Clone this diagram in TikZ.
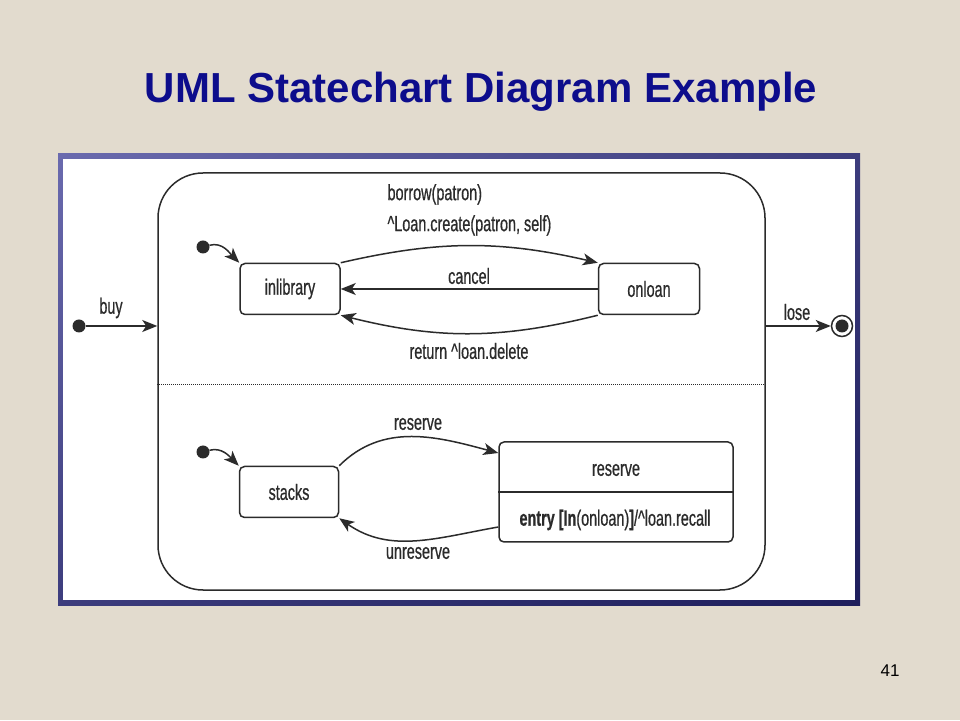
\documentclass[tikz,border=0pt]{standalone}
\usepackage{fontspec}
\setmainfont{Liberation Sans}
\newfontfamily\statefont[FakeStretch=0.655, FakeBold=0.6]{Liberation Sans}
\usepackage{xcolor}
\usepackage{tikz}
\usetikzlibrary{arrows.meta,shadings}
\definecolor{slidebg}{HTML}{E2DBCE}
\definecolor{titleblue}{HTML}{0D0D8C}
\definecolor{inkgray}{HTML}{2B2B2B}
\definecolor{frametop}{HTML}{6A6AAE}
\definecolor{framebot}{HTML}{1E1E5C}

\begin{document}
\begin{tikzpicture}[x=1pt, y=1pt,
  every node/.style={font=\statefont\fontsize{22}{31}\selectfont, text=inkgray},
  state/.style={draw=inkgray, line width=1.5pt, rounded corners=5pt, inner sep=0pt},
  pseudo/.style={circle, fill=inkgray, minimum size=13pt, inner sep=0pt},
  final/.style={circle, draw=inkgray, line width=1.5pt, minimum size=21pt, inner sep=0pt,
    path picture={\fill[inkgray] (path picture bounding box.center) circle (6.5pt);}},
  trans/.style={draw=inkgray, line width=1.5pt, -{Stealth[length=15pt, width=12pt, inset=4pt]}}]
\useasboundingbox[fill=slidebg] (0,0) rectangle (960,720);
\node[font=\bfseries\fontsize{42}{50}\selectfont, text=titleblue, anchor=base] (title) at (481,617) {UML Statechart Diagram Example};
\shade[upper left=frametop, upper right=framebot!60!frametop, lower left=framebot!60!frametop, lower right=framebot] (58,115) rectangle (860,566);
\fill[white] (63,120) rectangle (855,561);
\node[state, rounded corners=45pt, minimum width=607pt, minimum height=417pt] (book) at (461.5,338.5) {};
\draw[draw=inkgray, line width=1pt, dash pattern=on 1pt off 1pt] ([yshift=-3.5pt]book.west) -- ([yshift=-3.5pt]book.east);
\node[state, minimum width=100pt, minimum height=51pt] (inlibrary) at (290,431) {inlibrary};
\node[state, minimum width=101pt, minimum height=51pt] (onloan) at (649,431) {onloan};
\node[state, minimum width=99pt, minimum height=51pt] (stacks) at (289,228) {stacks};
\node[state, minimum width=234pt, minimum height=100pt] (reserve) at (616,228) {};
\draw[draw=inkgray, line width=1.5pt] (reserve.west) -- (reserve.east);
\node (reservename) at (616,250) {reserve};
\node (reserveentry) at (615,200) {\bfseries entry [In\mdseries(onloan)\bfseries]\mdseries/\textasciicircum loan.recall};
\node[pseudo] (start) at (79,394) {};
\node[final] (end) at (842,394) {};
\node[pseudo] (init1) at (203,473) {};
\node[pseudo] (init2) at (203,268) {};
\draw[trans] (start) -- (start -| book.west);
\draw[trans] (start -| book.east) -- (end);
\draw[trans] (init1) to[out=15, in=135] (inlibrary.north west);
\draw[trans] (init2) to[out=15, in=135] (stacks.north west);
\draw[trans] (inlibrary.north east) to[bend left=13] (onloan.north west);
\draw[trans] (onloan.west) -- (inlibrary.east);
\draw[trans] (onloan.south west) to[bend left=14] (inlibrary.south east);
\draw[trans] (stacks.north east) to[out=45, in=165] ([yshift=39pt]reserve.west);
\draw[trans] ([yshift=-35pt]reserve.west) to[out=190, in=-35] (stacks.south east);
\node (buy) at (111,412) {buy};
\node (lose) at (797,408) {lose};
\node[anchor=west, align=left] (borrow) at (384,510) {borrow(patron)\\\textasciicircum Loan.create(patron, self)};
\node (cancel) at (469,444) {cancel};
\node (return) at (469,369) {return \textasciicircum loan.delete};
\node (reserveon) at (418,296) {reserve};
\node (unreserve) at (418,167) {unreserve};
\node[font=\fontsize{17}{20}\selectfont, text=black] (page) at (890,49) {41};
\end{tikzpicture}
\end{document}
